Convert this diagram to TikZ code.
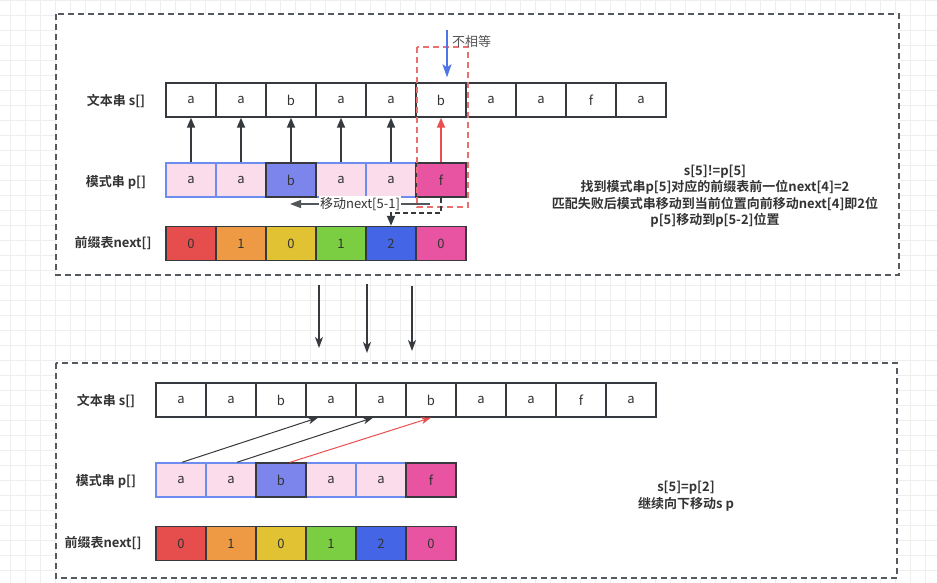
\documentclass[tikz,border=0pt]{standalone}
\usepackage{fontspec}
\setmainfont{Noto Sans CJK SC}[BoldFont={Noto Sans CJK SC Bold}]
\usetikzlibrary{arrows.meta}
\definecolor{gridc}{HTML}{EEEEEE}
\definecolor{boxc}{HTML}{555A60}
\definecolor{dark}{HTML}{36393D}
\definecolor{txt}{HTML}{333333}
\definecolor{pinkl}{HTML}{FADCEA}
\definecolor{bluebd}{HTML}{6D8CF0}
\definecolor{bcell}{HTML}{7C85EC}
\definecolor{fcell}{HTML}{E854A2}
\definecolor{nred}{HTML}{E64D4D}
\definecolor{norange}{HTML}{EE9A44}
\definecolor{nyellow}{HTML}{E0C233}
\definecolor{ngreen}{HTML}{7BCE42}
\definecolor{nblue}{HTML}{4466E6}
\definecolor{redar}{HTML}{EA4F4F}
\definecolor{reddash}{HTML}{EA7070}
\definecolor{bluear}{HTML}{4F74E8}
\definecolor{graytxt}{HTML}{555555}
\tikzset{
  every node/.style={font=\fontsize{13}{16.5}\selectfont, text=txt},
  frame/.style={draw=boxc, line width=1.5pt, dash pattern=on 6pt off 4pt, fill=white},
  cell/.style={draw=dark, line width=1.4pt, minimum width=50pt, minimum height=34pt, inner sep=0pt},
  pa/.style={cell, fill=pinkl, draw=bluebd},
  pb/.style={cell, fill=bcell},
  pf/.style={cell, fill=fcell},
  lbl/.style={font=\bfseries\fontsize{13}{16.5}\selectfont},
  uparrow/.style={draw=dark, line width=1.8pt, -{Triangle[width=8pt,length=10pt]}},
  thinarrow/.style={draw=dark, line width=1pt, -{Stealth[width=7pt,length=10pt,inset=3pt]}},
  downarrow/.style={draw=dark, line width=1.4pt, -{Stealth[width=8pt,length=11pt,inset=3pt]}},
}
\begin{document}
\begin{tikzpicture}[x=1pt,y=-1pt]
\useasboundingbox (0,0) rectangle (937,583);
\fill[white] (0,0) rectangle (937,583);
% grid
\foreach \gx in {10,25,...,935} \draw[gridc, line width=0.8pt] (\gx,0) -- (\gx,583);
\foreach \gy in {0,15,...,583} \draw[gridc, line width=0.8pt] (0,\gy) -- (937,\gy);
% frames
\draw[frame] (56,14) rectangle (899,275);
\draw[frame] (56,363) rectangle (897,578);

% ---------- top panel ----------
\node[lbl] (ls1) at (116,101) {文本串 s[]};
\node[lbl] (lp1) at (116,182) {模式串 p[]};
\node[lbl] (ln1) at (113,243) {前缀表next[]};
\foreach [count=\i] \c in {a,a,b,a,a,b,a,a,f,a}
  \node[cell, fill=white] (s\i) at ({191+50*(\i-1)},100) {\c};
\foreach \i in {1,2,4,5}
  \node[pa] (p\i) at ({191+50*(\i-1)},180) {a};
\node[pb] (p3) at (291,180) {b};
\node[pf] (p6) at (441,180) {f};
\foreach [count=\i] \c/\col in {0/nred,1/norange,0/nyellow,1/ngreen,2/nblue,0/fcell}
  \node[cell, fill=\col] (n\i) at ({191+50*(\i-1)},243.5) {\c};
\foreach \i in {1,...,5}
  \draw[uparrow] (p\i.north) -- (s\i.south);
\draw[uparrow, draw=redar, -{Triangle[width=8pt,length=10pt]}, color=redar] (p6.north) -- (s6.south);
% red dashed box
\draw[reddash, line width=1.5pt, dash pattern=on 6pt off 4pt] (417,47) rectangle (468,207);
% blue arrow
\coordinate (btop) at (447,30);
\draw[bluear, line width=1.8pt, -{Stealth[width=9pt,length=13pt,inset=3pt]}] (btop) -- ([xshift=6pt,yshift=5pt]s6.north);
\node[anchor=west, text=graytxt, inner sep=0pt] (neq) at (452,42) {不相等};
% dashed path to next[4]
\draw[dark, line width=1.8pt, dash pattern=on 5pt off 3pt, -{Triangle[width=8pt,length=10pt]}] (p6.south) -- ++(0,15) -| (n5.north);
% move arrow with label
\coordinate (mvR) at (430,204);
\coordinate (mvL) at (290,204);
\draw[dark!85, line width=1.5pt, -{Triangle[width=8pt,length=11pt]}] (mvR) -- (mvL)
  node[midway, fill=white, inner sep=1.5pt, text=txt] (mvlbl) {移动next[5-1]};
% right text
\node[lbl, align=center] (t1) at (715,196) {s[5]!=p[5]\\找到模式串p[5]对应的前缀表前一位next[4]=2\\匹配失败后模式串移动到当前位置向前移动next[4]即2位\\p[5]移动到p[5-2]位置};

% ---------- arrows between panels ----------
\coordinate (d1s) at (319,285); \coordinate (d1e) at (319,348);
\coordinate (d2s) at (367,284); \coordinate (d2e) at (367,353);
\coordinate (d3s) at (412,286); \coordinate (d3e) at (412,351);
\draw[downarrow] (d1s) -- (d1e);
\draw[downarrow] (d2s) -- (d2e);
\draw[downarrow] (d3s) -- (d3e);

% ---------- bottom panel ----------
\node[lbl] (ls2) at (106,401) {文本串 s[]};
\node[lbl] (lp2) at (106,481) {模式串 p[]};
\node[lbl] (ln2) at (103,543) {前缀表next[]};
\foreach [count=\i] \c in {a,a,b,a,a,b,a,a,f,a}
  \node[cell, fill=white] (bs\i) at ({181+50*(\i-1)},400) {\c};
\foreach \i in {1,2,4,5}
  \node[pa] (bp\i) at ({181+50*(\i-1)},480) {a};
\node[pb] (bp3) at (281,480) {b};
\node[pf] (bp6) at (431,480) {f};
\foreach [count=\i] \c/\col in {0/nred,1/norange,0/nyellow,1/ngreen,2/nblue,0/fcell}
  \node[cell, fill=\col] (bn\i) at ({181+50*(\i-1)},543.5) {\c};
\draw[thinarrow] ([xshift=1pt]bp1.north) -- ([xshift=-13pt]bs4.south);
\draw[thinarrow] ([xshift=6pt]bp2.north) -- ([xshift=-8pt]bs5.south);
\draw[thinarrow, draw=redar, -{Stealth[width=7pt,length=10pt,inset=3pt]}, color=redar] ([xshift=9pt]bp3.north) -- (bs6.south);
\node[lbl, align=center] (t2) at (686,496) {s[5]=p[2]\\继续向下移动s p};
\end{tikzpicture}
\end{document}
